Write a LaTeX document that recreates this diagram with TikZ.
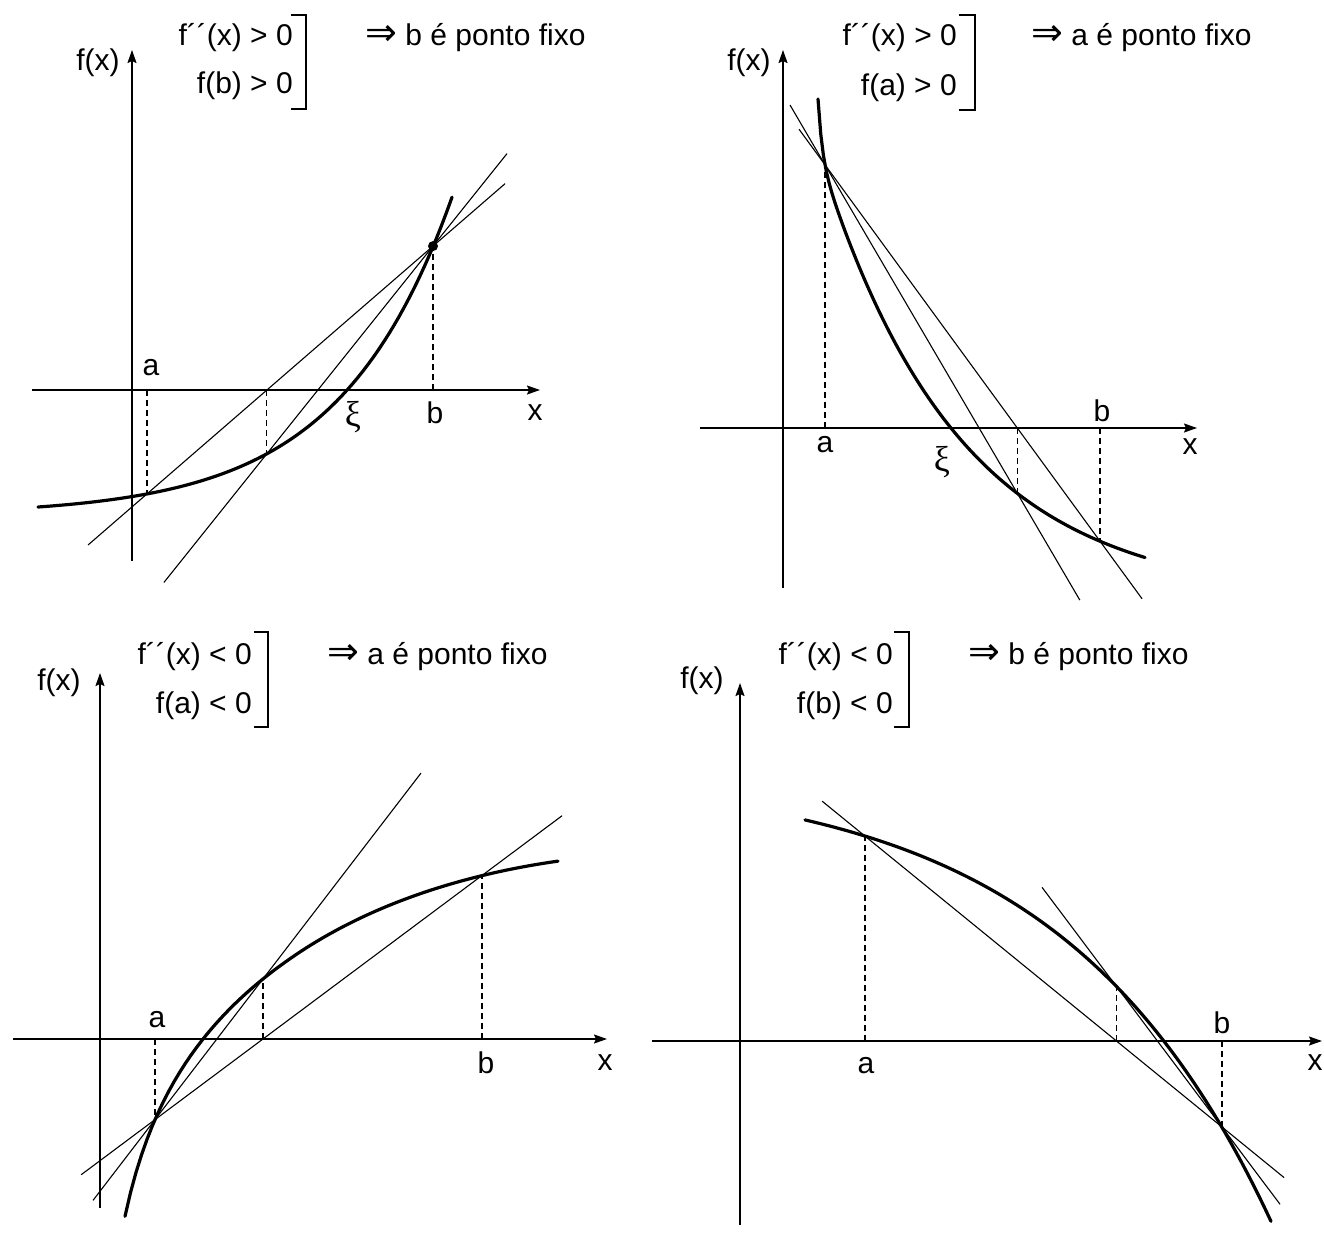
\documentclass[tikz,border=0pt]{standalone}
\usepackage{fontspec}
\setmainfont{Liberation Sans}
\newfontfamily\simbolos{DejaVu Sans}
\newfontfamily\grego{Liberation Serif}
\newcommand{\implica}{{\simbolos\fontsize{38}{38}\selectfont ⇒}}
\newcommand{\raiz}{{\grego\fontsize{36}{36}\selectfont ξ}}
\usetikzlibrary{arrows.meta,calc}

\begin{document}
\begin{tikzpicture}[x=1pt, y=-1pt,
  eixo/.style={line width=1.6pt, -{Stealth[length=13pt,width=9pt,inset=2pt]}},
  curva/.style={line width=3.2pt, line cap=round, samples=80},
  secante/.style={line width=1.1pt},
  guia/.style={line width=1.1pt, dash pattern=on 6pt off 4pt},
  rot/.style={font=\fontsize{30}{34}\selectfont, inner sep=0pt},
  colchete/.style={line width=1.6pt}]

\useasboundingbox (0,0) rectangle (1324,1236);

% ── painel 1 : f'' > 0, f(b) > 0 ──
\coordinate (O1) at (132,390);
\coordinate (e1) at (32,390);   \coordinate (d1) at (540,390);
\coordinate (s1) at (132,561);  \coordinate (t1) at (132,50);
\draw[eixo] (e1) -- (d1);
\draw[eixo] (s1) -- (t1);
\node[rot] (fx1) at (98,63) {f(x)};
\node[rot, anchor=east] (c1a) at (293,38) {f´´(x) > 0};
\node[rot, anchor=east] (c1b) at (293,86) {f(b) > 0};
\draw[colchete] (291,15) -- (306,15) -- (306,109) -- (291,109);
\node[rot, anchor=west] (r1) at (365,38) {\implica\ b é ponto fixo};
\coordinate (A1) at (147,493.9);
\coordinate (X1) at (266.9,453.7);
\coordinate (B1) at (433,246.1);
\coordinate (ab1i) at ($(A1)!-0.206!(B1)$); \coordinate (ab1f) at ($(A1)!1.252!(B1)$);
\coordinate (xb1i) at ($(X1)!-0.62!(B1)$);  \coordinate (xb1f) at ($(X1)!1.4455!(B1)$);
\draw[secante] (ab1i) -- (ab1f);
\draw[secante] (xb1i) -- (xb1f);
\draw[guia] (A1 |- O1) -- (A1);
\draw[guia] (X1 |- O1) -- (X1);
\draw[guia] (B1 |- O1) -- (B1);
\draw[curva] plot[domain=38:452] (\x, {515 - 5.7*exp(0.0089*\x)});
\node[circle, fill, inner sep=0pt, minimum size=10pt] (pb1) at (B1) {};
\node[rot] (la1) at (151,368) {a};
\node[rot] (xi1) at (353,417) {\raiz};
\node[rot] (lb1) at (435,413) {b};
\node[rot] (lx1) at (535,413) {x};

% ── painel 2 : f'' > 0, f(a) > 0 ──
\coordinate (O2) at (783,428);
\coordinate (e2) at (700,428);  \coordinate (d2) at (1197,428);
\coordinate (s2) at (783,588);  \coordinate (t2) at (783,50);
\draw[eixo] (e2) -- (d2);
\draw[eixo] (s2) -- (t2);
\node[rot] (fx2) at (749,63) {f(x)};
\node[rot, anchor=east] (c2a) at (957,38) {f´´(x) > 0};
\node[rot, anchor=east] (c2b) at (957,88) {f(a) > 0};
\draw[colchete] (959,15) -- (975,15) -- (975,110) -- (959,110);
\node[rot, anchor=west] (r2) at (1031,38) {\implica\ a é ponto fixo};
\coordinate (A2) at (825,164.8);
\coordinate (X2) at (1017.3,493.3);
\coordinate (B2) at (1100,541.2);
\coordinate (ab2i) at ($(A2)!-0.0945!(B2)$); \coordinate (ab2f) at ($(A2)!1.153!(B2)$);
\coordinate (ax2i) at ($(A2)!-0.182!(X2)$);  \coordinate (ax2f) at ($(A2)!1.325!(X2)$);
\draw[secante] (ab2i) -- (ab2f);
\draw[secante] (ax2i) -- (ax2f);
\draw[guia] (A2 |- O2) -- (A2);
\draw[guia] (X2 |- O2) -- (X2);
\draw[guia] (B2 |- O2) -- (B2);
\draw[curva] plot[domain=818:1145, samples=120]
  (\x, {600 - 426*exp(-0.0072*(\x-825)) - 53*exp(-(\x-818)/4)});
\node[rot] (la2) at (825,445) {a};
\node[rot] (xi2) at (942,462) {\raiz};
\node[rot] (lb2) at (1102,411) {b};
\node[rot] (lx2) at (1190,447) {x};

% ── painel 3 : f'' < 0, f(a) < 0 ──
\coordinate (O3) at (100,1039);
\coordinate (e3) at (13,1039);  \coordinate (d3) at (607,1039);
\coordinate (s3) at (100,1208); \coordinate (t3) at (100,673);
\draw[eixo] (e3) -- (d3);
\draw[eixo] (s3) -- (t3);
\node[rot] (fx3) at (59,683) {f(x)};
\node[rot, anchor=east] (c3a) at (252,657) {f´´(x) < 0};
\node[rot, anchor=east] (c3b) at (252,706) {f(a) < 0};
\draw[colchete] (254,632) -- (268,632) -- (268,727) -- (254,727);
\node[rot, anchor=west] (r3) at (327,657) {\implica\ a é ponto fixo};
\coordinate (A3) at (155,1119.6);
\coordinate (X3) at (263,978.9);
\coordinate (B3) at (482,875.5);
\coordinate (ab3i) at ($(A3)!-0.226!(B3)$); \coordinate (ab3f) at ($(A3)!1.245!(B3)$);
\coordinate (ax3i) at ($(A3)!-0.574!(X3)$); \coordinate (ax3f) at ($(A3)!2.463!(X3)$);
\draw[secante] (ab3i) -- (ab3f);
\draw[secante] (ax3i) -- (ax3f);
\draw[guia] (A3 |- O3) -- (A3);
\draw[guia] (X3 |- O3) -- (X3);
\draw[guia] (B3 |- O3) -- (B3);
\draw[curva] plot[domain=125:558]
  (\x, {1666.9 - 134.5*ln(\x-96.5) + 0.000285*max(\x-300,0)*max(\x-300,0)});
\node[rot] (la3) at (157,1020) {a};
\node[rot] (lb3) at (486,1063) {b};
\node[rot] (lx3) at (605,1063) {x};

% ── painel 4 : f'' < 0, f(b) < 0 ──
\coordinate (O4) at (740,1041);
\coordinate (e4) at (652,1041); \coordinate (d4) at (1322,1041);
\coordinate (s4) at (740,1225); \coordinate (t4) at (740,683);
\draw[eixo] (e4) -- (d4);
\draw[eixo] (s4) -- (t4);
\node[rot] (fx4) at (702,681) {f(x)};
\node[rot, anchor=east] (c4a) at (893,657) {f´´(x) < 0};
\node[rot, anchor=east] (c4b) at (893,706) {f(b) < 0};
\draw[colchete] (894,632) -- (909,632) -- (909,727) -- (894,727);
\node[rot, anchor=west] (r4) at (968,657) {\implica\ b é ponto fixo};
\coordinate (A4) at (865,836.1);
\coordinate (X4) at (1116.5,986.5);
\coordinate (B4) at (1222,1127);
\coordinate (ab4i) at ($(A4)!-0.12!(B4)$);  \coordinate (ab4f) at ($(A4)!1.174!(B4)$);
\coordinate (xb4i) at ($(X4)!-0.706!(B4)$); \coordinate (xb4f) at ($(X4)!1.55!(B4)$);
\draw[secante] (ab4i) -- (ab4f);
\draw[secante] (xb4i) -- (xb4f);
\draw[guia] (A4 |- O4) -- (A4);
\draw[guia] (X4 |- O4) -- (X4);
\draw[guia] (B4 |- O4) -- (B4);
\draw[curva] plot[domain=805:1271]
  (\x, {1127 + 209.6*(exp(0.00477*(\x-1111)) - 1.697)});
\node[rot] (la4) at (866,1066) {a};
\node[rot] (lb4) at (1222,1023) {b};
\node[rot] (lx4) at (1315,1063) {x};

\end{tikzpicture}
\end{document}
